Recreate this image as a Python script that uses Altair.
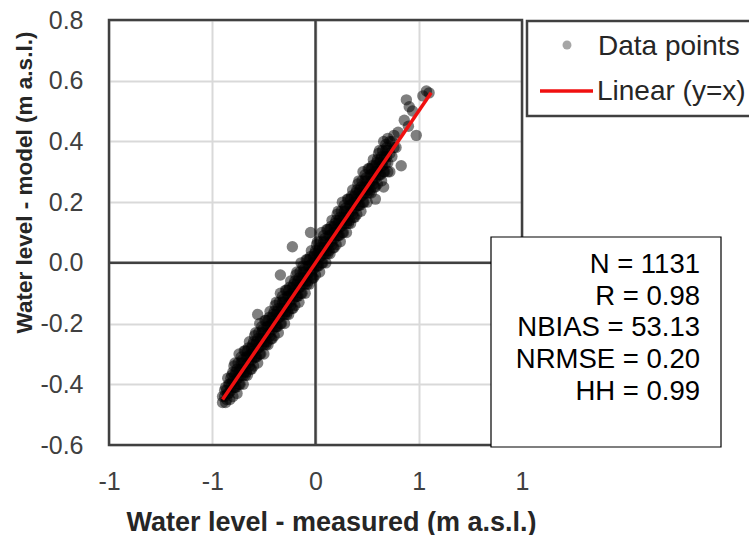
import json
import altair as alt
import pandas as pd

# ---- data ----
measured_bins = [
    -0.45, -0.44, -0.43, -0.42, -0.41, -0.40, -0.39, -0.38, -0.37, -0.36,
    -0.35, -0.34, -0.33, -0.32, -0.31, -0.30, -0.29, -0.28, -0.27, -0.26,
    -0.25, -0.24, -0.23, -0.22, -0.21, -0.20, -0.19, -0.18, -0.17, -0.16,
    -0.15, -0.14, -0.13, -0.12, -0.11, -0.10, -0.09, -0.08, -0.07, -0.06,
    -0.05, -0.04, -0.03, -0.02, -0.01, 0.00, 0.01, 0.02, 0.03, 0.04,
    0.05, 0.06, 0.07, 0.08, 0.09, 0.10, 0.11, 0.12, 0.13, 0.14,
    0.15, 0.16, 0.17, 0.18, 0.19, 0.20, 0.21, 0.22, 0.23, 0.24,
    0.25, 0.26, 0.27, 0.28, 0.29, 0.30, 0.31, 0.32, 0.33, 0.34,
    0.35, 0.36, 0.37, 0.38, 0.39, 0.40,
]
model_by_bin = [
    [-0.46, -0.44], [-0.44, -0.42], [-0.45, -0.42], [-0.43, -0.40], [-0.42, -0.38],
    [-0.44, -0.39, -0.36], [-0.41, -0.37, -0.33], [-0.43, -0.38, -0.35], [-0.40, -0.36, -0.30], [-0.37, -0.33, -0.31],
    [-0.40, -0.37, -0.33], [-0.37, -0.34, -0.29], [-0.37, -0.31, -0.29], [-0.34, -0.31, -0.26], [-0.35, -0.32, -0.28],
    [-0.34, -0.29, -0.26], [-0.31, -0.27, -0.23], [-0.33, -0.28, -0.25], [-0.30, -0.26, -0.20], [-0.27, -0.23, -0.21],
    [-0.30, -0.27, -0.23], [-0.27, -0.24, -0.19], [-0.27, -0.21, -0.19], [-0.24, -0.21, -0.16], [-0.25, -0.22, -0.18],
    [-0.24, -0.19, -0.16], [-0.21, -0.17, -0.13], [-0.23, -0.18, -0.15], [-0.20, -0.16, -0.10], [-0.17, -0.13, -0.11],
    [-0.20, -0.17, -0.13], [-0.17, -0.14, -0.09], [-0.17, -0.11, -0.09], [-0.14, -0.11, -0.06], [-0.15, -0.12, -0.08],
    [-0.14, -0.09, -0.06], [-0.11, -0.07, -0.03], [-0.13, -0.08, -0.05], [-0.10, -0.06, 0.00], [-0.07, -0.03, -0.01],
    [-0.10, -0.07, -0.03], [-0.07, -0.04, 0.01], [-0.07, -0.01, 0.01], [-0.04, -0.01, 0.04], [-0.05, -0.02, 0.02],
    [-0.04, 0.01, 0.04], [-0.01, 0.03, 0.07], [-0.03, 0.02, 0.05], [0.00, 0.04, 0.10], [0.03, 0.07, 0.09],
    [0.00, 0.03, 0.07], [0.03, 0.06, 0.11], [0.03, 0.09, 0.11], [0.06, 0.09, 0.14], [0.05, 0.08, 0.12],
    [0.06, 0.11, 0.14], [0.09, 0.13, 0.17], [0.07, 0.12, 0.15], [0.10, 0.14, 0.20], [0.13, 0.17, 0.19],
    [0.10, 0.13, 0.17], [0.13, 0.16, 0.21], [0.13, 0.19, 0.21], [0.16, 0.19, 0.24], [0.15, 0.18, 0.22],
    [0.16, 0.21, 0.24], [0.19, 0.23, 0.27], [0.17, 0.22, 0.25], [0.20, 0.24, 0.30], [0.23, 0.27, 0.29],
    [0.20, 0.23, 0.27], [0.23, 0.26, 0.31], [0.23, 0.29, 0.31], [0.26, 0.29, 0.34], [0.25, 0.28, 0.32],
    [0.26, 0.31, 0.34], [0.29, 0.33, 0.37], [0.27, 0.32, 0.35], [0.30, 0.34, 0.40], [0.33, 0.37, 0.39],
    [0.30, 0.33, 0.37], [0.36, 0.40], [0.35, 0.40], [0.38, 0.42], [0.38], [0.43],
]
# second set of points, between the bins above
measured_bins2 = [
    -0.435, -0.425, -0.415, -0.405, -0.395, -0.385, -0.375, -0.365, -0.355, -0.345,
    -0.335, -0.325, -0.315, -0.305, -0.295, -0.285, -0.275, -0.265, -0.255, -0.245,
    -0.235, -0.225, -0.215, -0.205, -0.195, -0.185, -0.175, -0.165, -0.155, -0.145,
    -0.135, -0.125, -0.115, -0.105, -0.095, -0.085, -0.075, -0.065, -0.055, -0.045,
    -0.035, -0.025, -0.015, -0.005, 0.005, 0.015, 0.025, 0.035, 0.045, 0.055,
    0.065, 0.075, 0.085, 0.095, 0.105, 0.115, 0.125, 0.135, 0.145, 0.155,
    0.165, 0.175, 0.185, 0.195, 0.205, 0.215, 0.225, 0.235, 0.245, 0.255,
    0.265, 0.275, 0.285, 0.295, 0.305, 0.315, 0.325, 0.335, 0.345,
]
model_by_bin2 = [
    [-0.46, -0.41], [-0.43, -0.38], [-0.45, -0.40], [-0.40, -0.37], [-0.41, -0.34],
    [-0.41, -0.36], [-0.38, -0.33], [-0.40, -0.35], [-0.35, -0.32], [-0.36, -0.29],
    [-0.36, -0.31], [-0.33, -0.28], [-0.35, -0.30], [-0.30, -0.27], [-0.31, -0.24],
    [-0.31, -0.26], [-0.28, -0.23], [-0.30, -0.25], [-0.25, -0.22], [-0.26, -0.19],
    [-0.26, -0.21], [-0.23, -0.18], [-0.25, -0.20], [-0.20, -0.17], [-0.21, -0.14],
    [-0.21, -0.16], [-0.18, -0.13], [-0.20, -0.15], [-0.15, -0.12], [-0.16, -0.09],
    [-0.16, -0.11], [-0.13, -0.08], [-0.15, -0.10], [-0.10, -0.07], [-0.11, -0.04],
    [-0.11, -0.06], [-0.08, -0.03], [-0.10, -0.05], [-0.05, -0.02], [-0.06, 0.01],
    [-0.06, -0.01], [-0.03, 0.02], [-0.05, 0.00], [0.00, 0.03], [-0.01, 0.06],
    [-0.01, 0.04], [0.02, 0.07], [0.00, 0.05], [0.05, 0.08], [0.04, 0.11],
    [0.04, 0.09], [0.07, 0.12], [0.05, 0.10], [0.10, 0.13], [0.09, 0.16],
    [0.09, 0.14], [0.12, 0.17], [0.10, 0.15], [0.15, 0.18], [0.14, 0.21],
    [0.14, 0.19], [0.17, 0.22], [0.15, 0.20], [0.20, 0.23], [0.19, 0.26],
    [0.19, 0.24], [0.22, 0.27], [0.20, 0.25], [0.25, 0.28], [0.24, 0.31],
    [0.24, 0.29], [0.27, 0.32], [0.25, 0.30], [0.30, 0.33], [0.29, 0.36],
    [0.29, 0.34], [0.32, 0.37], [0.30, 0.35], [0.35, 0.38],
]
extra_measured = [0.33, 0.415, 0.488, 0.44, 0.454, 0.537, 0.55, 0.52, 0.43, 0.45,
                  0.47, 0.35, 0.36, 0.29, -0.112, -0.024, -0.28, -0.17]
extra_model = [0.25, 0.32, 0.42, 0.537, 0.514, 0.566, 0.56, 0.55, 0.47, 0.45,
               0.50, 0.41, 0.30, 0.21, 0.053, 0.10, -0.17, -0.04]

line_measured = [-0.45, 0.56]
line_model = [-0.45, 0.56]

x_ticks = [-1, -0.5, 0, 0.5, 1]
x_tick_labels = ["-1", "-1", "0", "1", "1"]
y_ticks = [-0.6, -0.4, -0.2, 0, 0.2, 0.4, 0.6, 0.8]
y_tick_labels = ["-0.6", "-0.4", "-0.2", "0.0", "0.2", "0.4", "0.6", "0.8"]

stats_lines = ["N = 1131", "R = 0.98", "NBIAS = 53.13", "NRMSE = 0.20", "HH = 0.99"]
legend_labels = ["Data points", "Linear (y=x)"]

x_title = "Water level - measured (m a.s.l.)"
y_title = "Water level - model (m a.s.l.)"

# ---- tables ----
rows_m, rows_y = [], []
for bins, groups in ((measured_bins, model_by_bin), (measured_bins2, model_by_bin2)):
    for xm, ys in zip(bins, groups):
        for yv in ys:
            rows_m.append(xm)
            rows_y.append(yv)
rows_m += extra_measured
rows_y += extra_model
pts = pd.DataFrame({"measured": rows_m, "model": rows_y})
line_df = pd.DataFrame({"measured": line_measured, "model": line_model})
one = pd.DataFrame({"k": [0]})

W, H = 413, 425
FONT = "Liberation Sans"
RED = "#f01010"
FRAME = "#404040"

x_scale = alt.Scale(domain=[-1, 1], nice=False, zero=False)
y_scale = alt.Scale(domain=[-0.6, 0.8], nice=False, zero=False)

x_axis = alt.Axis(
    values=x_ticks,
    labelExpr=f"{json.dumps(x_tick_labels)}[indexof({json.dumps(x_ticks)}, datum.value)]",
    grid=True, gridColor="#d9d9d9", gridWidth=2,
    domain=False, ticks=False, tickSize=0,
    labelPadding=24, labelFont=FONT, labelFontSize=25, labelColor="#404040",
    labelFlush=False, labelOverlap=False,
    title=x_title, titleFont=FONT, titleFontSize=27, titleFontWeight="bold",
    titleColor="#262626", titleX=222, titleY=85, titleBaseline="alphabetic",
)
y_axis = alt.Axis(
    values=y_ticks,
    labelExpr=f"{json.dumps(y_tick_labels)}[indexof({json.dumps(y_ticks)}, datum.value)]",
    grid=True, gridColor="#d9d9d9", gridWidth=2,
    domain=False, ticks=False, tickSize=0,
    labelPadding=26, labelFont=FONT, labelFontSize=25, labelColor="#404040",
    labelFlush=False, labelOverlap=False,
    title=y_title, titleFont=FONT, titleFontSize=22.5, titleFontWeight="bold",
    titleColor="#262626", titleX=-78, titleY=162, titleBaseline="alphabetic",
)

X = alt.X("measured:Q", scale=x_scale, axis=x_axis)
Y = alt.Y("model:Q", scale=y_scale, axis=y_axis)

points = alt.Chart(pts).mark_circle(size=130, color="black", opacity=0.5).encode(x=X, y=Y)

zero_v = alt.Chart(pd.DataFrame({"measured": [0]})).mark_rule(
    color=FRAME, strokeWidth=2.5).encode(x=X)
zero_h = alt.Chart(pd.DataFrame({"model": [0]})).mark_rule(
    color=FRAME, strokeWidth=2.5).encode(y=Y)

fit = alt.Chart(line_df).mark_line(color=RED, strokeWidth=3.5).encode(x=X, y=Y)

frame = alt.Chart(one).mark_rect(fill="white", fillOpacity=0, stroke=FRAME, strokeWidth=2.5).encode(
    x=alt.value(0), x2=alt.value(W), y=alt.value(0), y2=alt.value(H))

stats_box = alt.Chart(one).mark_rect(fill="white", stroke="black", strokeWidth=1.2).encode(
    x=alt.value(382), x2=alt.value(612), y=alt.value(217), y2=alt.value(427))
stats_text = alt.Chart(one).mark_text(
    text=stats_lines, align="right", baseline="alphabetic", font=FONT,
    fontSize=27.5, lineHeight=31.7, color="black").encode(x=alt.value(591), y=alt.value(253))

leg_box = alt.Chart(one).mark_rect(fill="white", stroke=FRAME, strokeWidth=2.5).encode(
    x=alt.value(418), x2=alt.value(670), y=alt.value(1), y2=alt.value(96))
leg_dot = alt.Chart(one).mark_circle(size=80, color="#a6a6a6", opacity=1).encode(
    x=alt.value(458), y=alt.value(25))
leg_t1 = alt.Chart(one).mark_text(
    text=legend_labels[0], align="left", baseline="alphabetic", font=FONT, fontSize=28,
    color="#262626").encode(x=alt.value(489), y=alt.value(35))
leg_line = alt.Chart(one).mark_rule(color=RED, strokeWidth=3.5).encode(
    x=alt.value(431), x2=alt.value(484), y=alt.value(71))
leg_t2 = alt.Chart(one).mark_text(
    text=legend_labels[1], align="left", baseline="alphabetic", font=FONT, fontSize=28,
    color="#262626").encode(x=alt.value(488), y=alt.value(80))

chart = alt.layer(
    zero_v, zero_h, points, fit, frame, stats_box, stats_text,
    leg_box, leg_dot, leg_t1, leg_line, leg_t2,
).properties(
    width=W, height=H,
    autosize=alt.AutoSizeParams(type="none"),
    padding={"left": 109, "top": 20, "right": 227, "bottom": 90},
    background="white",
).configure_view(strokeWidth=0)

chart.save("out.html", embed_options={"renderer": "svg", "actions": False})
